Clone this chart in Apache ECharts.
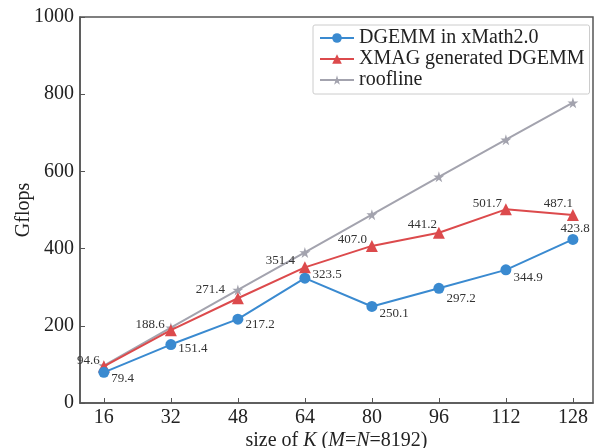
<!DOCTYPE html>
<html><head><meta charset="utf-8">
<script src="https://cdn.jsdelivr.net/npm/echarts@6/dist/echarts.min.js"></script>
<style>html,body{margin:0;padding:0;background:#fff}#c{width:598px;height:448px}</style>
</head><body><div id="c"></div>
<script>
const kValues = [16, 32, 48, 64, 80, 96, 112, 128];
const xmath = [79.4, 151.4, 217.2, 323.5, 250.1, 297.2, 344.9, 423.8];
const xmag = [94.6, 188.6, 271.4, 351.4, 407.0, 441.2, 501.7, 487.1];
const roofline = [97, 195, 293, 390, 488, 586, 682, 778];
const yTicks = [0, 200, 400, 600, 800, 1000];

const F = 'Liberation Serif';
const blueOff = [[0,6],[0,4],[0,5],[0,-4],[0,7],[0,10],[0,8],[-20,-11]];
const redOff = [[4,-6],[2,-6],[-5,-9],[-2,-7],[3,-6],[6,-8],[4,-6],[8,-11]];

function pts(vals, offs, pos) {
  return vals.map((v, i) => ({
    value: [kValues[i], v],
    label: { offset: offs[i], position: pos }
  }));
}

const chart = echarts.init(document.getElementById('c'));
chart.setOption({
  animation: false,
  textStyle: { fontFamily: F },
  grid: { left: 80, top: 17, right: 5, bottom: 45, show: true, borderColor: '#555', borderWidth: 1.5,
          outerBoundsMode: 'none', containLabel: false },
  legend: {
    orient: 'vertical', left: 313, top: 25, itemGap: 1, itemWidth: 34, itemHeight: 12,
    padding: [3, 5, 4, 6], borderColor: '#ccc', borderWidth: 1, borderRadius: 2,
    textStyle: { fontFamily: F, fontSize: 20, color: '#222', lineHeight: 19 },
    data: ['DGEMM in xMath2.0', 'XMAG generated DGEMM', 'roofline']
  },
  xAxis: {
    type: 'value', min: 10.3, max: 132.8,
    axisLine: { lineStyle: { color: '#555', width: 1.5 } },
    axisTick: { show: true, inside: true, length: 5, customValues: kValues, lineStyle: { color: '#555' } },
    axisLabel: { customValues: kValues, fontFamily: F, fontSize: 20, color: '#222', margin: 5 },
    splitLine: { show: false },
    name: '{a|size of }{i|K}{a| (}{i|M}{a|=}{i|N}{a|=8192)}',
    nameLocation: 'middle', nameGap: 28, nameMoveOverlap: false,
    nameTextStyle: { rich: {
      a: { fontFamily: F, fontSize: 20, color: '#222' },
      i: { fontFamily: F, fontSize: 20, color: '#222', fontStyle: 'italic' }
    } }
  },
  yAxis: {
    type: 'value', min: 0, max: 1000, interval: 200,
    axisLine: { show: true, lineStyle: { color: '#555', width: 1.5 } },
    axisTick: { show: true, inside: true, length: 5, lineStyle: { color: '#555' } },
    axisLabel: { fontFamily: F, fontSize: 20, color: '#222', margin: 6, formatter: v => String(v) },
    splitLine: { show: false },
    name: 'Gflops', nameLocation: 'middle', nameGap: 46, nameMoveOverlap: false,
    nameTextStyle: { fontFamily: F, fontSize: 20, color: '#222' }
  },
  series: [
    {
      name: 'DGEMM in xMath2.0', type: 'line', data: pts(xmath, blueOff, 'right'),
      symbol: 'circle', symbolSize: 11,
      itemStyle: { color: '#3a8ad0' }, lineStyle: { color: '#3a8ad0', width: 2 },
      label: { show: true, fontFamily: F, fontSize: 13, color: '#333', distance: 2,
               formatter: p => p.value[1].toFixed(1) }, z: 3
    },
    {
      name: 'XMAG generated DGEMM', type: 'line', data: pts(xmag, redOff, 'left'),
      symbol: 'triangle', symbolSize: 12,
      itemStyle: { color: '#dc4a4c' }, lineStyle: { color: '#dc4a4c', width: 2 },
      label: { show: true, fontFamily: F, fontSize: 13, color: '#333', distance: 2,
               formatter: p => p.value[1].toFixed(1) }, z: 2
    },
    {
      name: 'roofline', type: 'line', data: roofline.map((v, i) => [kValues[i], v]),
      symbol: 'path://M50,0 L61,35 L98,35 L68,57 L79,91 L50,70 L21,91 L32,57 L2,35 L39,35 Z', symbolSize: 11,
      itemStyle: { color: '#a3a3ae' }, lineStyle: { color: '#a3a3ae', width: 2 }, z: 1
    }
  ]
});
</script></body></html>
